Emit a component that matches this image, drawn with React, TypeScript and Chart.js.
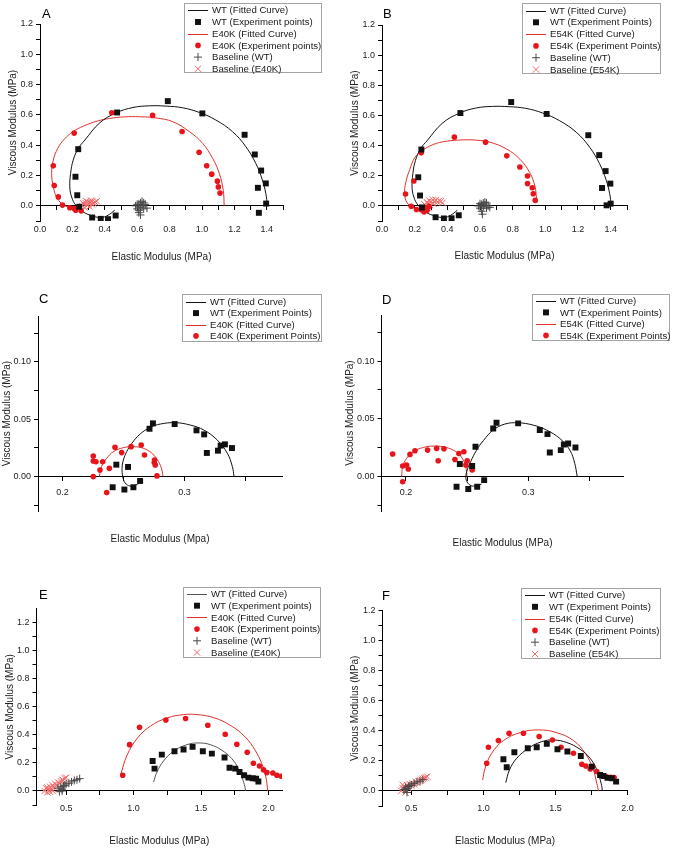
import React, { useEffect, useRef } from 'react';
import { Chart, registerables } from 'chart.js';

Chart.register(...registerables);

type Pt = [number, number];

const FONT = "'Liberation Sans', Arial, Helvetica, sans-serif";
const BLACK = '#111111';
const GREY_LINE = '#555555';
const RED_PT = '#e8141b';
const RED_LINE = '#e0302c';
const GREY_CROSS = '#4a4a4a';
const RED_X = '#f06a6a';

// ---------------- Panel A (WT vs E40K, full range) ----------------
const A_WT_POINTS: Pt[] = [
  [0.789, 0.691], [0.476, 0.616], [1.002, 0.61], [1.263, 0.469], [1.326, 0.339], [1.365, 0.233],
  [1.394, 0.148], [1.345, 0.119], [1.396, 0.015], [1.351, -0.046], [0.236, 0.374], [0.219, 0.192],
  [0.23, 0.07], [0.242, -0.006], [0.322, -0.077], [0.375, -0.086], [0.42, -0.088], [0.467, -0.064],
];
const A_E40K_POINTS: Pt[] = [
  [0.443, 0.614], [0.695, 0.597], [0.877, 0.491], [0.982, 0.354], [1.029, 0.264], [1.06, 0.209],
  [1.095, 0.163], [1.101, 0.125], [1.111, 0.084], [0.211, 0.48], [0.082, 0.264], [0.088, 0.134],
  [0.113, 0.059], [0.139, 0.005], [0.184, -0.013], [0.211, -0.018], [0.221, -0.029], [0.254, -0.033],
];
const WT_CURVE_AB: Pt[] = [
  [0.461, -0.029], [0.42, -0.062], [0.379, -0.077], [0.328, -0.068], [0.266, -0.04], [0.221, 0.004],
  [0.195, 0.059], [0.184, 0.125], [0.189, 0.214], [0.205, 0.302], [0.236, 0.379], [0.277, 0.434],
  [0.369, 0.548], [0.471, 0.614], [0.574, 0.649], [0.676, 0.66], [0.779, 0.658], [0.881, 0.647],
  [0.984, 0.616], [1.086, 0.566], [1.189, 0.489], [1.271, 0.39], [1.332, 0.28], [1.373, 0.17],
  [1.394, 0.081], [1.404, 0.0],
];
const A_E40K_CURVE: Pt[] = [
  [0.21, -0.02], [0.17, -0.007], [0.133, 0.015], [0.102, 0.059], [0.082, 0.125], [0.072, 0.214],
  [0.082, 0.302], [0.11, 0.38], [0.15, 0.44], [0.205, 0.49], [0.27, 0.527], [0.35, 0.558],
  [0.43, 0.577], [0.52, 0.587], [0.615, 0.588], [0.717, 0.58], [0.82, 0.555], [0.922, 0.49],
  [1.004, 0.412], [1.066, 0.313], [1.107, 0.214], [1.131, 0.103], [1.137, 0.0],
];
const A_BASE_WT: Pt[] = [
  [0.59, 0.0], [0.6, -0.02], [0.61, 0.01], [0.61, -0.03], [0.62, 0.02], [0.62, -0.01], [0.63, 0.03],
  [0.63, 0.0], [0.64, -0.02], [0.62, -0.06], [0.65, 0.01], [0.6, 0.01], [0.61, -0.045], [0.64, 0.02],
  [0.66, -0.015],
];
const A_BASE_E40K: Pt[] = [
  [0.26, 0.0], [0.27, 0.012], [0.275, -0.01], [0.28, 0.02], [0.29, 0.005], [0.295, 0.025], [0.3, 0.012],
  [0.305, -0.005], [0.31, 0.022], [0.32, 0.01], [0.325, 0.028], [0.33, 0.015], [0.34, 0.025],
  [0.35, 0.03], [0.285, 0.03], [0.265, 0.018], [0.315, 0.035],
];

// ---------------- Panel B (WT vs E54K, full range) ----------------
const B_WT_POINTS: Pt[] = [
  [0.791, 0.689], [0.48, 0.616], [1.008, 0.61], [1.263, 0.469], [1.33, 0.337], [1.369, 0.231],
  [1.398, 0.148], [1.347, 0.119], [1.4, 0.015], [1.375, 0.004], [0.241, 0.374], [0.222, 0.19],
  [0.233, 0.069], [0.245, -0.01], [0.328, -0.075], [0.379, -0.083], [0.426, -0.082], [0.47, -0.062],
];
const B_E54K_POINTS: Pt[] = [
  [0.443, 0.456], [0.634, 0.423], [0.764, 0.332], [0.844, 0.258], [0.891, 0.198], [0.891, 0.148],
  [0.92, 0.121], [0.926, 0.081], [0.938, 0.037], [0.24, 0.352], [0.195, 0.165], [0.144, 0.079],
  [0.179, -0.002], [0.211, -0.024], [0.241, -0.026], [0.258, -0.04], [0.262, -0.011], [0.276, -0.029],
  [0.288, -0.003],
];
const B_E54K_CURVE: Pt[] = [
  [0.251, -0.022], [0.22, -0.018], [0.19, -0.011], [0.153, 0.022], [0.139, 0.077], [0.145, 0.154],
  [0.17, 0.242], [0.2, 0.319], [0.241, 0.363], [0.313, 0.407], [0.394, 0.429], [0.497, 0.438],
  [0.58, 0.436], [0.66, 0.423], [0.762, 0.378], [0.844, 0.31], [0.905, 0.22], [0.936, 0.132],
  [0.946, 0.05], [0.948, 0.02],
];
const B_BASE_WT: Pt[] = [
  [0.59, 0.0], [0.6, -0.015], [0.61, 0.01], [0.61, -0.035], [0.62, 0.02], [0.62, -0.005], [0.63, 0.025],
  [0.63, 0.005], [0.64, -0.015], [0.615, -0.055], [0.65, 0.0], [0.6, 0.015], [0.64, 0.02], [0.66, -0.01],
];
const B_BASE_E54K: Pt[] = [
  [0.25, -0.01], [0.26, 0.01], [0.27, 0.0], [0.275, 0.025], [0.28, 0.015], [0.29, 0.035], [0.295, 0.005],
  [0.3, 0.025], [0.31, 0.04], [0.315, 0.015], [0.32, 0.03], [0.33, 0.04], [0.34, 0.025], [0.35, 0.035],
  [0.36, 0.03], [0.37, 0.02], [0.285, -0.015], [0.265, -0.02],
];

// ---------------- Panel C (WT vs E40K, zoom) ----------------
const C_WT_POINTS: Pt[] = [
  [0.2742, 0.0464], [0.2714, 0.0417], [0.292, 0.0458], [0.3099, 0.0403], [0.3162, 0.0368],
  [0.3184, 0.0206], [0.3275, 0.0226], [0.3297, 0.027], [0.3332, 0.0281], [0.339, 0.0249],
  [0.2442, 0.0104], [0.2538, 0.0084], [0.2412, -0.0093], [0.2508, -0.0113], [0.2582, -0.0093],
  [0.2637, -0.0038],
];
const C_E40K_POINTS: Pt[] = [
  [0.2253, 0.018], [0.2253, 0.0136], [0.2275, 0.013], [0.233, 0.013], [0.2308, 0.0058], [0.2385, 0.0072],
  [0.2253, 0.0], [0.2363, -0.0139], [0.2431, 0.0255], [0.2486, 0.0209], [0.2563, 0.0261],
  [0.2646, 0.0275], [0.2673, 0.0188], [0.2755, 0.0145], [0.2753, 0.0122], [0.2761, 0.0101],
  [0.2775, 0.0006],
];
const C_WT_CURVE: Pt[] = [
  [0.2632, -0.0055], [0.2595, -0.0078], [0.2555, -0.0083], [0.2514, -0.0055], [0.2495, 0.0],
  [0.2489, 0.0072], [0.25, 0.0145], [0.2527, 0.0217], [0.2569, 0.029], [0.2637, 0.0371], [0.272, 0.0429],
  [0.2802, 0.0458], [0.2926, 0.047], [0.3049, 0.0449], [0.3159, 0.0406], [0.3269, 0.0319],
  [0.3352, 0.0203], [0.3393, 0.0087], [0.3407, 0.0],
];
const C_E40K_CURVE: Pt[] = [
  [0.2302, 0.0], [0.2321, 0.0087], [0.2363, 0.0159], [0.2418, 0.0217], [0.25, 0.0252], [0.2582, 0.0261],
  [0.2665, 0.0246], [0.2734, 0.0203], [0.2788, 0.013], [0.2816, 0.0058], [0.2824, 0.0],
];

// ---------------- Panel D (WT vs E54K, zoom) ----------------
const D_WT_POINTS: Pt[] = [
  [0.2741, 0.0465], [0.2714, 0.0416], [0.2918, 0.046], [0.3095, 0.0402], [0.3158, 0.0367],
  [0.3177, 0.0208], [0.3267, 0.0228], [0.3292, 0.0277], [0.3327, 0.0286], [0.3387, 0.0251],
  [0.2569, 0.0257], [0.2441, 0.0107], [0.2542, 0.009], [0.2414, -0.009], [0.251, -0.011],
  [0.2583, -0.009], [0.264, -0.0032],
];
const D_E54K_POINTS: Pt[] = [
  [0.1891, 0.0194], [0.1973, 0.009], [0.2005, 0.0098], [0.2019, 0.0064], [0.1973, -0.0046],
  [0.2033, 0.0191], [0.2074, 0.0223], [0.2177, 0.0228], [0.2251, 0.0243], [0.2311, 0.024],
  [0.2264, 0.0136], [0.2401, 0.0147], [0.2433, 0.0199], [0.2474, 0.0214], [0.2501, 0.0136],
  [0.249, 0.0098], [0.2542, 0.0084], [0.2542, 0.0055],
];
const D_WT_CURVE: Pt[] = [
  [0.2619, -0.0066], [0.2564, -0.0084], [0.2523, -0.0075], [0.2496, -0.0038], [0.249, 0.0],
  [0.2501, 0.0055], [0.2529, 0.0127], [0.2578, 0.0228], [0.2632, 0.0309], [0.2714, 0.0402],
  [0.2809, 0.0454], [0.2918, 0.0465], [0.3041, 0.0445], [0.315, 0.0402], [0.3259, 0.0329],
  [0.3341, 0.0228], [0.3381, 0.0113], [0.3401, 0.0],
];
const D_E54K_CURVE: Pt[] = [
  [0.1965, 0.0], [0.1973, 0.0084], [0.2005, 0.0156], [0.206, 0.0214], [0.2142, 0.0251], [0.2223, 0.0263],
  [0.2305, 0.0257], [0.2387, 0.0228], [0.2441, 0.0185], [0.2482, 0.0113], [0.2496, 0.004], [0.2499, 0.0],
];

// ---------------- Panel E (WT vs E40K, second condition) ----------------
const E_WT_POINTS: Pt[] = [
  [1.141, 0.214], [1.155, 0.159], [1.209, 0.259], [1.303, 0.283], [1.37, 0.295], [1.437, 0.314],
  [1.513, 0.283], [1.58, 0.266], [1.674, 0.238], [1.711, 0.166], [1.753, 0.159], [1.785, 0.135],
  [1.819, 0.112], [1.851, 0.095], [1.883, 0.09], [1.908, 0.088], [1.925, 0.067],
];
const E_E40K_POINTS: Pt[] = [
  [0.919, 0.112], [0.97, 0.33], [1.044, 0.454], [1.239, 0.506], [1.385, 0.516], [1.55, 0.468],
  [1.679, 0.404], [1.765, 0.333], [1.842, 0.276], [1.888, 0.197], [1.933, 0.178], [1.963, 0.15],
  [1.988, 0.131], [2.032, 0.128], [2.062, 0.112], [2.094, 0.105],
];
const E_WT_CURVE: Pt[] = [
  [1.148, 0.064], [1.173, 0.135], [1.222, 0.214], [1.296, 0.283], [1.395, 0.33], [1.481, 0.342],
  [1.568, 0.33], [1.654, 0.29], [1.728, 0.23], [1.777, 0.159], [1.807, 0.088], [1.825, 0.03], [1.83, 0.0],
];
const E_E40K_CURVE: Pt[] = [
  [0.905, 0.12], [0.951, 0.254], [1.025, 0.373], [1.123, 0.461], [1.247, 0.52], [1.37, 0.544],
  [1.469, 0.544], [1.592, 0.523], [1.716, 0.468], [1.827, 0.385], [1.901, 0.29], [1.95, 0.195],
  [1.98, 0.1], [1.995, 0.0],
];
const E_BASE_WT: Pt[] = [
  [0.44, 0.02], [0.45, -0.005], [0.46, 0.03], [0.47, 0.012], [0.48, 0.035], [0.49, 0.04], [0.5, 0.05],
  [0.52, 0.055], [0.54, 0.065], [0.56, 0.075], [0.58, 0.08], [0.6, 0.088], [0.47, 0.0],
];
const E_BASE_E40K: Pt[] = [
  [0.34, 0.0], [0.35, 0.02], [0.36, -0.01], [0.37, 0.01], [0.38, 0.03], [0.39, 0.015], [0.4, 0.04],
  [0.41, 0.025], [0.42, 0.05], [0.43, 0.04], [0.44, 0.06], [0.45, 0.055], [0.46, 0.07], [0.47, 0.08],
  [0.48, 0.075], [0.49, 0.09], [0.5, 0.095], [0.36, 0.025], [0.38, -0.005], [0.4, 0.0],
];

// ---------------- Panel F (WT vs E54K, second condition) ----------------
const F_WT_POINTS: Pt[] = [
  [1.139, 0.211], [1.162, 0.158], [1.215, 0.257], [1.308, 0.284], [1.37, 0.291], [1.44, 0.313],
  [1.514, 0.277], [1.583, 0.262], [1.676, 0.233], [1.752, 0.162], [1.81, 0.106], [1.833, 0.1],
  [1.861, 0.087], [1.891, 0.084], [1.921, 0.062],
];
const F_E54K_POINTS: Pt[] = [
  [1.023, 0.184], [1.035, 0.291], [1.104, 0.335], [1.178, 0.384], [1.278, 0.384], [1.387, 0.362],
  [1.479, 0.339], [1.539, 0.291], [1.625, 0.251], [1.683, 0.177], [1.711, 0.166], [1.741, 0.146],
  [1.759, 0.162], [1.787, 0.129], [1.829, 0.1], [1.856, 0.095], [1.884, 0.091], [1.907, 0.089],
];
const F_WT_CURVE: Pt[] = [
  [1.155, 0.055], [1.181, 0.14], [1.231, 0.217], [1.313, 0.284], [1.405, 0.328], [1.486, 0.339],
  [1.579, 0.322], [1.671, 0.277], [1.741, 0.217], [1.787, 0.14], [1.817, 0.051], [1.826, 0.0],
];
const F_E54K_CURVE: Pt[] = [
  [0.995, 0.073], [1.012, 0.151], [1.058, 0.251], [1.139, 0.335], [1.255, 0.388], [1.382, 0.406],
  [1.509, 0.388], [1.625, 0.335], [1.706, 0.251], [1.759, 0.151], [1.787, 0.051], [1.799, 0.0],
];
const F_BASE_WT: Pt[] = [
  [0.45, 0.01], [0.46, 0.02], [0.47, 0.015], [0.48, 0.03], [0.49, 0.035], [0.5, 0.04], [0.52, 0.05],
  [0.54, 0.06], [0.56, 0.065], [0.58, 0.075], [0.47, -0.01],
];
const F_BASE_E54K: Pt[] = [
  [0.43, 0.0], [0.44, 0.02], [0.45, 0.03], [0.46, -0.01], [0.47, 0.04], [0.48, 0.02], [0.49, 0.045],
  [0.5, 0.035], [0.51, 0.05], [0.52, 0.045], [0.53, 0.06], [0.54, 0.055], [0.55, 0.065], [0.56, 0.07],
  [0.57, 0.075], [0.58, 0.08], [0.59, 0.085], [0.6, 0.09], [0.61, 0.095], [0.44, 0.04], [0.46, 0.01],
];

// ---------------- Ticks ----------------
const AB_X_MAJOR = [0, 0.2, 0.4, 0.6, 0.8, 1.0, 1.2, 1.4];
const AB_X_MINOR = [0.1, 0.3, 0.5, 0.7, 0.9, 1.1, 1.3, 1.5];
const Y_MAJOR_FULL = [0, 0.2, 0.4, 0.6, 0.8, 1.0, 1.2];
const Y_MINOR_FULL = [-0.1, 0.1, 0.3, 0.5, 0.7, 0.9, 1.1];
const CD_X_MAJOR = [0.2, 0.3];
const CD_X_MINOR = [0.25, 0.35];
const CD_Y_MAJOR = [0, 0.05, 0.1];
const CD_Y_MINOR = [-0.025, 0.025, 0.075, 0.125];
const EF_X_MAJOR = [0.5, 1.0, 1.5, 2.0];
const EF_X_MINOR = [0.75, 1.25, 1.75];

// ---------------- Types / helpers ----------------
type Kind = 'line' | 'rect' | 'circle' | 'cross' | 'crossRot';
interface Series { label: string; data: Pt[]; kind: Kind; color: string; size: number; }
interface Panel {
  letter: string;
  letterPos: [number, number];
  canvas: { left: number; top: number; width: number; height: number };
  area: { left: number; top: number; right: number; bottom: number };
  xRange: [number, number];
  yRange: [number, number];
  xMajor: number[]; xMinor: number[]; yMajor: number[]; yMinor: number[];
  xDigits: number; yDigits: number;
  xTitle: string;
  xLabelPad: number; xTitlePad: number; yTitlePad: number;
  legend: { x: number; y: number; w: number; h: number; first: number; step: number };
  series: Series[];
}

const fit = (label: string, data: Pt[], color: string): Series => ({ label, data, kind: 'line', color, size: 0 });
const sq = (label: string, data: Pt[]): Series => ({ label, data, kind: 'rect', color: BLACK, size: 4.2 });
const dot = (label: string, data: Pt[]): Series => ({ label, data, kind: 'circle', color: RED_PT, size: 2.8 });
const plus = (label: string, data: Pt[]): Series => ({ label, data, kind: 'cross', color: GREY_CROSS, size: 4 });
const xmark = (label: string, data: Pt[]): Series => ({ label, data, kind: 'crossRot', color: RED_X, size: 4.5 });

const Y_TITLE = 'Viscous Modulus (MPa)';

const PANELS: Panel[] = [
  {
    letter: 'A', letterPos: [42, 17.5],
    canvas: { left: 0, top: 0, width: 337, height: 280 },
    area: { left: 40, top: 24, right: 283, bottom: 221 },
    xRange: [0, 1.5], yRange: [-0.1, 1.2],
    xMajor: AB_X_MAJOR, xMinor: AB_X_MINOR, yMajor: Y_MAJOR_FULL, yMinor: Y_MINOR_FULL,
    xDigits: 1, yDigits: 1,
    xTitle: 'Elastic Modulus (MPa)', xLabelPad: 14, xTitlePad: 17, yTitlePad: 7,
    legend: { x: 184, y: 3, w: 138, h: 70, first: 7.3, step: 11.7 },
    series: [
      fit('WT (Fitted Curve)', WT_CURVE_AB, BLACK),
      sq('WT (Experiment points)', A_WT_POINTS),
      fit('E40K (Fitted Curve)', A_E40K_CURVE, RED_LINE),
      dot('E40K (Experiment points)', A_E40K_POINTS),
      plus('Baseline (WT)', A_BASE_WT),
      xmark('Baseline (E40K)', A_BASE_E40K),
    ],
  },
  {
    letter: 'B', letterPos: [383, 17.5],
    canvas: { left: 342, top: 0, width: 332, height: 280 },
    area: { left: 382, top: 25, right: 627, bottom: 221 },
    xRange: [0, 1.5], yRange: [-0.1, 1.2],
    xMajor: AB_X_MAJOR, xMinor: AB_X_MINOR, yMajor: Y_MAJOR_FULL, yMinor: Y_MINOR_FULL,
    xDigits: 1, yDigits: 1,
    xTitle: 'Elastic Modulus (MPa)', xLabelPad: 14, xTitlePad: 18, yTitlePad: 7,
    legend: { x: 522, y: 3, w: 139, h: 71, first: 7.5, step: 11.8 },
    series: [
      fit('WT (Fitted Curve)', WT_CURVE_AB, BLACK),
      sq('WT (Experiment Points)', B_WT_POINTS),
      fit('E54K (Fitted Curve)', B_E54K_CURVE, RED_LINE),
      dot('E54K (Experiment Points)', B_E54K_POINTS),
      plus('Baseline (WT)', B_BASE_WT),
      xmark('Baseline (E54K)', B_BASE_E54K),
    ],
  },
  {
    letter: 'C', letterPos: [39, 303],
    canvas: { left: 0, top: 280, width: 337, height: 280 },
    area: { left: 38, top: 316, right: 282, bottom: 511 },
    xRange: [0.18, 0.38], yRange: [-0.03, 0.14],
    xMajor: CD_X_MAJOR, xMinor: CD_X_MINOR, yMajor: CD_Y_MAJOR, yMinor: CD_Y_MINOR,
    xDigits: 1, yDigits: 2,
    xTitle: 'Elastic Modulus (Mpa)', xLabelPad: 7, xTitlePad: 14.7, yTitlePad: 1,
    legend: { x: 182, y: 294, w: 140, h: 48, first: 7.7, step: 11.4 },
    series: [
      fit('WT (Fitted Curve)', C_WT_CURVE, BLACK),
      sq('WT (Experiment Points)', C_WT_POINTS),
      fit('E40K (Fitted Curve)', C_E40K_CURVE, RED_LINE),
      dot('E40K (Experiment Points)', C_E40K_POINTS),
    ],
  },
  {
    letter: 'D', letterPos: [382, 303.5],
    canvas: { left: 342, top: 280, width: 332, height: 280 },
    area: { left: 381.5, top: 315, right: 623.5, bottom: 511 },
    xRange: [0.18, 0.378], yRange: [-0.03, 0.14],
    xMajor: CD_X_MAJOR, xMinor: CD_X_MINOR, yMajor: CD_Y_MAJOR, yMinor: CD_Y_MINOR,
    xDigits: 1, yDigits: 2,
    xTitle: 'Elastic Modulus (MPa)', xLabelPad: 7, xTitlePad: 10.7, yTitlePad: 2,
    legend: { x: 532, y: 294, w: 138, h: 47, first: 6.9, step: 11.5 },
    series: [
      fit('WT (Fitted Curve)', D_WT_CURVE, BLACK),
      sq('WT (Experiment Points)', D_WT_POINTS),
      fit('E54K (Fitted Curve)', D_E54K_CURVE, RED_LINE),
      dot('E54K (Experiment Points)', D_E54K_POINTS),
    ],
  },
  {
    letter: 'E', letterPos: [39, 599],
    canvas: { left: 0, top: 560, width: 337, height: 289 },
    area: { left: 36.5, top: 608.5, right: 282, bottom: 805 },
    xRange: [0.28, 2.1], yRange: [-0.1, 1.3],
    xMajor: EF_X_MAJOR, xMinor: EF_X_MINOR, yMajor: Y_MAJOR_FULL, yMinor: Y_MINOR_FULL,
    xDigits: 1, yDigits: 1,
    xTitle: 'Elastic Modulus (MPa)', xLabelPad: 8.5, xTitlePad: 1.3, yTitlePad: 4,
    legend: { x: 183, y: 587, w: 138, h: 71, first: 7, step: 11.7 },
    series: [
      fit('WT (Fitted Curve)', E_WT_CURVE, GREY_LINE),
      sq('WT (Experiment points)', E_WT_POINTS),
      fit('E40K (Fitted Curve)', E_E40K_CURVE, RED_LINE),
      dot('E40K (Experiment points)', E_E40K_POINTS),
      plus('Baseline (WT)', E_BASE_WT),
      xmark('Baseline (E40K)', E_BASE_E40K),
    ],
  },
  {
    letter: 'F', letterPos: [382, 599.5],
    canvas: { left: 342, top: 560, width: 332, height: 289 },
    area: { left: 382.5, top: 610.5, right: 627.5, bottom: 806 },
    xRange: [0.3, 2.0], yRange: [-0.1, 1.2],
    xMajor: EF_X_MAJOR, xMinor: EF_X_MINOR, yMajor: Y_MAJOR_FULL, yMinor: Y_MINOR_FULL,
    xDigits: 1, yDigits: 1,
    xTitle: 'Elastic Modulus (MPa)', xLabelPad: 8, xTitlePad: 2, yTitlePad: 7,
    legend: { x: 521, y: 588, w: 140, h: 71, first: 7, step: 11.8 },
    series: [
      fit('WT (Fitted Curve)', F_WT_CURVE, BLACK),
      sq('WT (Experiment Points)', F_WT_POINTS),
      fit('E54K (Fitted Curve)', F_E54K_CURVE, RED_LINE),
      dot('E54K (Experiment Points)', F_E54K_POINTS),
      plus('Baseline (WT)', F_BASE_WT),
      xmark('Baseline (E54K)', F_BASE_E54K),
    ],
  },
];

function labelFor(major: number[], digits: number) {
  return (v: number | string) => {
    const n = Number(v);
    return major.some((m) => Math.abs(m - n) < 1e-9) ? n.toFixed(digits) : '';
  };
}

function setTicks(major: number[], minor: number[]) {
  const all = [...major, ...minor].sort((a, b) => a - b);
  return (scale: any) => {
    scale.ticks = all.map((v) => ({ value: v }));
  };
}

function drawMarker(ctx: CanvasRenderingContext2D, kind: Kind, x: number, y: number, r: number, color: string) {
  ctx.save();
  ctx.fillStyle = color;
  ctx.strokeStyle = color;
  ctx.lineWidth = 1;
  if (kind === 'rect') {
    const s = r * Math.SQRT2;
    ctx.fillRect(x - s / 2, y - s / 2, s, s);
  } else if (kind === 'circle') {
    ctx.beginPath();
    ctx.arc(x, y, r, 0, Math.PI * 2);
    ctx.fill();
  } else if (kind === 'cross') {
    ctx.beginPath();
    ctx.moveTo(x - r, y); ctx.lineTo(x + r, y);
    ctx.moveTo(x, y - r); ctx.lineTo(x, y + r);
    ctx.stroke();
  } else if (kind === 'crossRot') {
    const d = r * Math.SQRT1_2;
    ctx.beginPath();
    ctx.moveTo(x - d, y - d); ctx.lineTo(x + d, y + d);
    ctx.moveTo(x - d, y + d); ctx.lineTo(x + d, y - d);
    ctx.stroke();
  }
  ctx.restore();
}

function overlayPlugin(p: Panel) {
  return {
    id: 'overlay' + p.letter,
    afterDraw(chart: any) {
      const ctx: CanvasRenderingContext2D = chart.ctx;
      const ox = p.canvas.left;
      const oy = p.canvas.top;
      ctx.save();
      // panel letter
      ctx.font = `13px ${FONT}`;
      ctx.fillStyle = '#000';
      ctx.textAlign = 'left';
      ctx.textBaseline = 'alphabetic';
      ctx.fillText(p.letter, p.letterPos[0] - ox, p.letterPos[1] - oy);
      // legend box
      const L = p.legend;
      const bx = Math.round(L.x - ox);
      const by = Math.round(L.y - oy);
      ctx.fillStyle = '#ffffff';
      ctx.fillRect(bx, by, L.w, L.h);
      ctx.strokeStyle = '#a3a3a3';
      ctx.lineWidth = 1;
      ctx.strokeRect(bx + 0.5, by + 0.5, L.w - 1, L.h - 1);
      ctx.font = `9.6px ${FONT}`;
      ctx.textBaseline = 'middle';
      p.series.forEach((s, i) => {
        const cy = by + L.first + i * L.step;
        if (s.kind === 'line') {
          ctx.strokeStyle = s.color;
          ctx.lineWidth = 1;
          ctx.beginPath();
          ctx.moveTo(bx + 4, Math.round(cy) + 0.5);
          ctx.lineTo(bx + 24, Math.round(cy) + 0.5);
          ctx.stroke();
        } else {
          drawMarker(ctx, s.kind, bx + 14, cy, s.size, s.color);
        }
        ctx.fillStyle = '#1a1a1a';
        ctx.fillText(s.label, bx + 28, cy + 0.5);
      });
      ctx.restore();
    },
  };
}

function buildConfig(p: Panel): any {
  const c = p.canvas;
  const a = p.area;
  const tickFont = { family: FONT, size: 9 };
  const titleFont = { family: FONT, size: 10 };
  const yWidth = a.left - c.left;
  const xtHeight = c.top + c.height - a.bottom;
  const datasets = p.series.map((s) => {
    const isLine = s.kind === 'line';
    const isStroke = s.kind === 'cross' || s.kind === 'crossRot';
    return {
      label: s.label,
      data: s.data.map(([x, y]) => ({ x, y })),
      showLine: isLine,
      tension: isLine ? 0.4 : 0,
      borderColor: s.color,
      backgroundColor: s.color,
      borderWidth: isLine ? 1 : 0,
      pointRadius: isLine ? 0 : s.size,
      pointHoverRadius: isLine ? 0 : s.size,
      pointStyle: isLine ? 'circle' : s.kind,
      pointBackgroundColor: s.color,
      pointBorderColor: s.color,
      pointBorderWidth: isStroke ? 1 : 0,
      order: isLine ? 2 : isStroke ? 1 : 0,
    };
  });
  const axisGrid = {
    drawOnChartArea: false,
    drawTicks: true,
    tickLength: 4,
    color: '#000',
    tickColor: '#000',
    tickWidth: 1,
  };
  return {
    type: 'scatter',
    data: { datasets },
    options: {
      responsive: false,
      maintainAspectRatio: false,
      animation: false,
      events: [],
      layout: {
        padding: { left: 0, top: a.top - c.top, right: c.left + c.width - a.right, bottom: 0 },
      },
      plugins: {
        legend: { display: false },
        tooltip: { enabled: false },
        title: { display: false },
      },
      scales: {
        x: {
          type: 'linear',
          axis: 'x',
          min: p.xRange[0],
          max: p.xRange[1],
          position: { y: 0 },
          grid: axisGrid,
          border: { display: true, color: '#000', width: 1 },
          ticks: {
            padding: p.xLabelPad,
            autoSkip: false,
            maxRotation: 0,
            minRotation: 0,
            font: tickFont,
            color: '#222',
            callback: labelFor(p.xMajor, p.xDigits),
          },
          afterBuildTicks: setTicks(p.xMajor, p.xMinor),
        },
        y: {
          type: 'linear',
          axis: 'y',
          min: p.yRange[0],
          max: p.yRange[1],
          position: 'left',
          grid: axisGrid,
          border: { display: true, color: '#000', width: 1 },
          ticks: {
            padding: 3,
            autoSkip: false,
            font: tickFont,
            color: '#222',
            callback: labelFor(p.yMajor, p.yDigits),
          },
          afterBuildTicks: setTicks(p.yMajor, p.yMinor),
          afterFit: (s: any) => { s.width = yWidth; },
          title: {
            display: true,
            text: Y_TITLE,
            font: titleFont,
            color: '#222',
            padding: { top: p.yTitlePad, bottom: 0 },
          },
        },
        xt: {
          type: 'linear',
          axis: 'x',
          position: 'bottom',
          display: true,
          grid: { display: false },
          border: { display: false },
          ticks: { display: false },
          title: {
            display: true,
            text: p.xTitle,
            font: titleFont,
            color: '#222',
            padding: { top: 0, bottom: p.xTitlePad },
          },
          afterFit: (s: any) => { s.height = xtHeight; },
        },
      },
    },
    plugins: [overlayPlugin(p)],
  };
}

function PanelChart({ p }: { p: Panel }) {
  const ref = useRef<HTMLCanvasElement | null>(null);
  useEffect(() => {
    if (!ref.current) return;
    const chart = new Chart(ref.current, buildConfig(p));
    return () => chart.destroy();
  }, [p]);
  return (
    <canvas
      ref={ref}
      width={p.canvas.width}
      height={p.canvas.height}
      style={{
        position: 'absolute',
        left: p.canvas.left,
        top: p.canvas.top,
        width: p.canvas.width,
        height: p.canvas.height,
      }}
    />
  );
}

export default function App() {
  useEffect(() => {
    document.body.style.margin = '0';
    document.body.style.background = '#ffffff';
  }, []);
  return (
    <div style={{ position: 'absolute', left: 0, top: 0, width: 674, height: 849, background: '#ffffff', overflow: 'hidden' }}>
      {PANELS.map((p) => (
        <PanelChart key={p.letter} p={p} />
      ))}
    </div>
  );
}
